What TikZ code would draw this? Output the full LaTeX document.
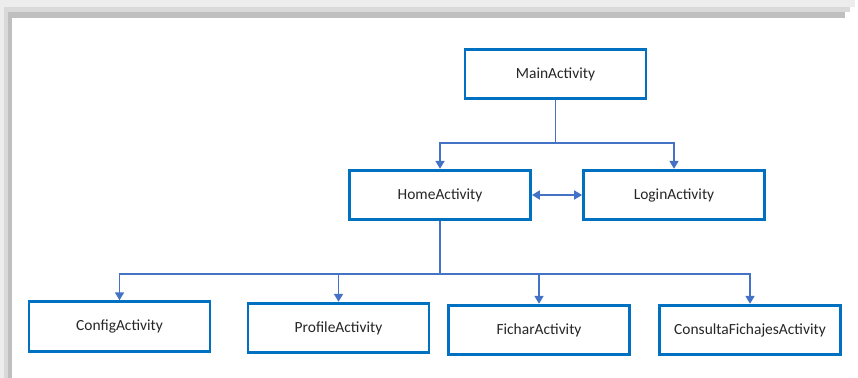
\documentclass[tikz,border=0pt]{standalone}
\usepackage{fontspec}
\setmainfont{Carlito}
\usepackage{xcolor}
\usetikzlibrary{arrows.meta}
\definecolor{boxblue}{HTML}{0070C0}
\definecolor{linkblue}{HTML}{4472C4}
\definecolor{shadeA}{HTML}{EDEDED}
\definecolor{shadeB}{HTML}{D9D9D9}
\definecolor{shadeC}{HTML}{BFBFBF}

\begin{document}
\begin{tikzpicture}[x=0.02cm,y=-0.02cm]
        \tikzset{
        act node/.style={rectangle,draw=boxblue,line width=1.6pt,fill=white,minimum width=3.62cm,minimum height=0.99cm,inner sep=0,font=\fontsize{8.8}{10}\selectfont,text=black!85},
        act edge/.style={draw=linkblue,line width=1.1pt,-{Triangle[length=4.5pt,width=5pt]}}
        }
        \useasboundingbox (0,0) rectangle (858,378);
        % frame shadow
        \fill[shadeA] (0,0) rectangle (855,7);
        \fill[shadeA] (0,0) rectangle (4,378);
        \fill[shadeB] (4,7) rectangle (850,12);
        \fill[shadeB] (4,7) rectangle (8,378);
        \fill[shadeC] (8,12) rectangle (845,18);
        \fill[shadeC] (8,12) rectangle (12,378);

        \node[act node] (main) at (555.5, 74) {MainActivity};
        \node[act node] (home) at (440, 195) {HomeActivity};
        \node[act node] (login) at (674, 195) {LoginActivity};
        \node[act node] (config) at (119.5, 326.5) {ConfigActivity};
        \node[act node] (profile) at (338.5, 328) {ProfileActivity};
        \node[act node] (fichar) at (539, 330) {FicharActivity};
        \node[act node] (consulta) at (750, 330) {ConsultaFichajesActivity};
        \coordinate (top split) at (555.5, 143);
        \coordinate (low split) at (440, 274);

        \draw[act edge,-] (main) -- (top split);
        \draw[act edge] (top split) -| (home);
        \draw[act edge] (top split) -| (login);
        \draw[act edge,{Triangle[length=4.5pt,width=5pt]}-{Triangle[length=4.5pt,width=5pt]}] (home) -- (login);
        \draw[act edge,-] (home) -- (low split);
        \draw[act edge] (low split) -| (config);
        \draw[act edge] (low split) -| (profile);
        \draw[act edge] (low split) -| (fichar);
        \draw[act edge] (low split) -| (consulta);
    \end{tikzpicture}
\end{document}
